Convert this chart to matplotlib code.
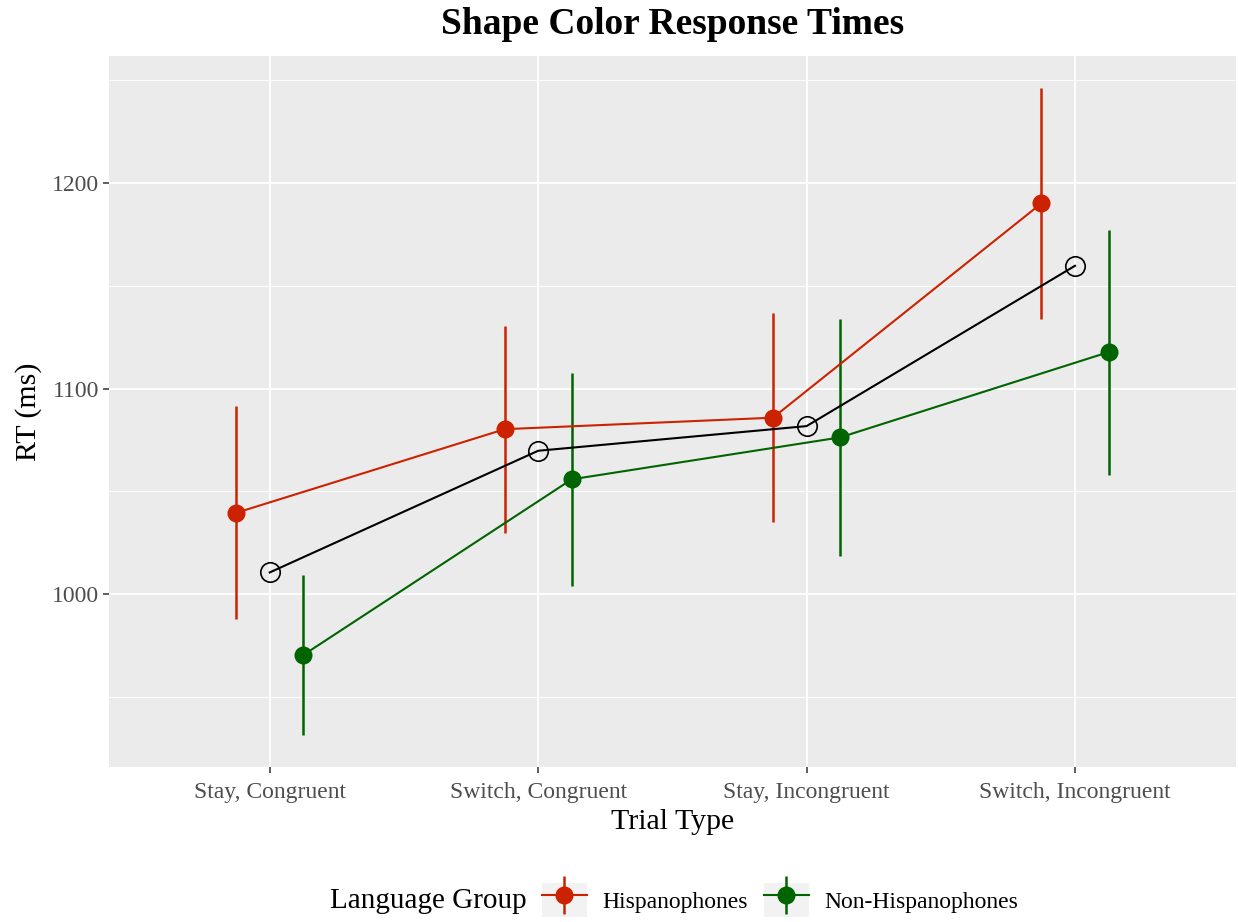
import matplotlib
matplotlib.use("Agg")
import matplotlib.pyplot as plt
import numpy as np
from matplotlib.patches import Rectangle
from matplotlib.legend_handler import HandlerErrorbar

plt.rcParams['font.family'] = ['Liberation Serif', 'DejaVu Serif']

categories = ["Stay, Congruent", "Switch, Congruent", "Stay, Incongruent", "Switch, Incongruent"]
groups = ["Hispanophones", "Non-Hispanophones"]

hisp_mean = [1039.5, 1080.2, 1085.8, 1190.1]
hisp_lo = [987.8, 1029.7, 1035.0, 1133.7]
hisp_hi = [1091.5, 1130.6, 1136.7, 1246.3]

non_mean = [970.3, 1055.8, 1076.2, 1117.7]
non_lo = [931.4, 1003.8, 1018.3, 1058.0]
non_hi = [1009.2, 1107.7, 1133.8, 1177.2]

overall_mean = [1010.5, 1069.7, 1081.7, 1159.7]

colors = {"Hispanophones": "#CC2200", "Non-Hispanophones": "#006400"}

W, H = 1238, 922
fig = plt.figure(figsize=(W / 100, H / 100), dpi=100)
ax = fig.add_axes([108.7 / W, 1 - 767 / H, (1236 - 108.7) / W, (767 - 56) / H])
ax.set_facecolor("#EBEBEB")
for s in ax.spines.values():
    s.set_visible(False)

x = np.arange(len(categories))
dodge = 0.125

handles = []
for g, m, lo, hi, off in [("Hispanophones", hisp_mean, hisp_lo, hisp_hi, -dodge),
                          ("Non-Hispanophones", non_mean, non_lo, non_hi, dodge)]:
    m = np.array(m); lo = np.array(lo); hi = np.array(hi)
    c = colors[g]
    eb = ax.errorbar(x + off, m, yerr=[m - lo, hi - m], color=c, lw=1.5,
                     elinewidth=1.8, capsize=0, marker='o', markersize=13,
                     markeredgewidth=0, zorder=3, label=g)
    handles.append(eb)

ax.plot(x, overall_mean, color='black', lw=1.5, marker='o', markersize=14,
        markerfacecolor='none', markeredgecolor='black', markeredgewidth=1.2, zorder=4)

ax.set_xlim(-0.6, 3.6)
ymin = 1000 - (767 - 594) / 2.055
ymax = 1000 + (594 - 56) / 2.055
ax.set_ylim(ymin, ymax)
ax.set_xticks(x)
ax.set_xticklabels(categories)
ax.set_yticks([1000, 1100, 1200])
ax.set_yticks([950, 1050, 1150, 1250], minor=True)
ax.grid(True, which='major', color='white', lw=1.3)
ax.grid(True, which='minor', color='white', lw=0.6)
ax.set_axisbelow(True)
ax.tick_params(axis='both', which='major', length=4, width=1.1, color='#333333',
               labelcolor='#4D4D4D', labelsize=17)
ax.tick_params(axis='x', which='major', pad=7)
ax.tick_params(axis='y', which='major', pad=3)
ax.tick_params(axis='y', which='minor', length=0)

ax.set_xlabel("Trial Type", fontsize=21.5, labelpad=4)
ax.set_ylabel("RT (ms)", fontsize=21.5, labelpad=7)
fig.text((108.7 + 1236) / 2 / W, 1 - 25 / H, "Shape Color Response Times",
         ha='center', va='center', fontsize=27, fontweight='bold')


class BoxHandler(HandlerErrorbar):
    def create_artists(self, legend, orig_handle, xdescent, ydescent, width, height, fontsize, trans):
        arts = super().create_artists(legend, orig_handle, xdescent, ydescent, width, height, fontsize, trans)
        rect = Rectangle((-xdescent, -ydescent), width, height,
                         facecolor='#F2F2F2', edgecolor='none', transform=trans, zorder=0)
        return [rect] + list(arts)


fig.text(330 / W, 1 - 901 / H, "Language Group", ha='left', va='center', fontsize=21)
leg = fig.legend(handles, groups, loc='center left', bbox_to_anchor=(541.7 / W, 1 - 900 / H),
                 ncol=2, frameon=False, fontsize=17, handlelength=1.9, handleheight=1.86,
                 handletextpad=0.68, columnspacing=0.66, borderaxespad=0, borderpad=0,
                 handler_map={type(handles[0]): BoxHandler(xerr_size=0.0, yerr_size=0.8)})

fig.savefig("out.png", dpi=100)
